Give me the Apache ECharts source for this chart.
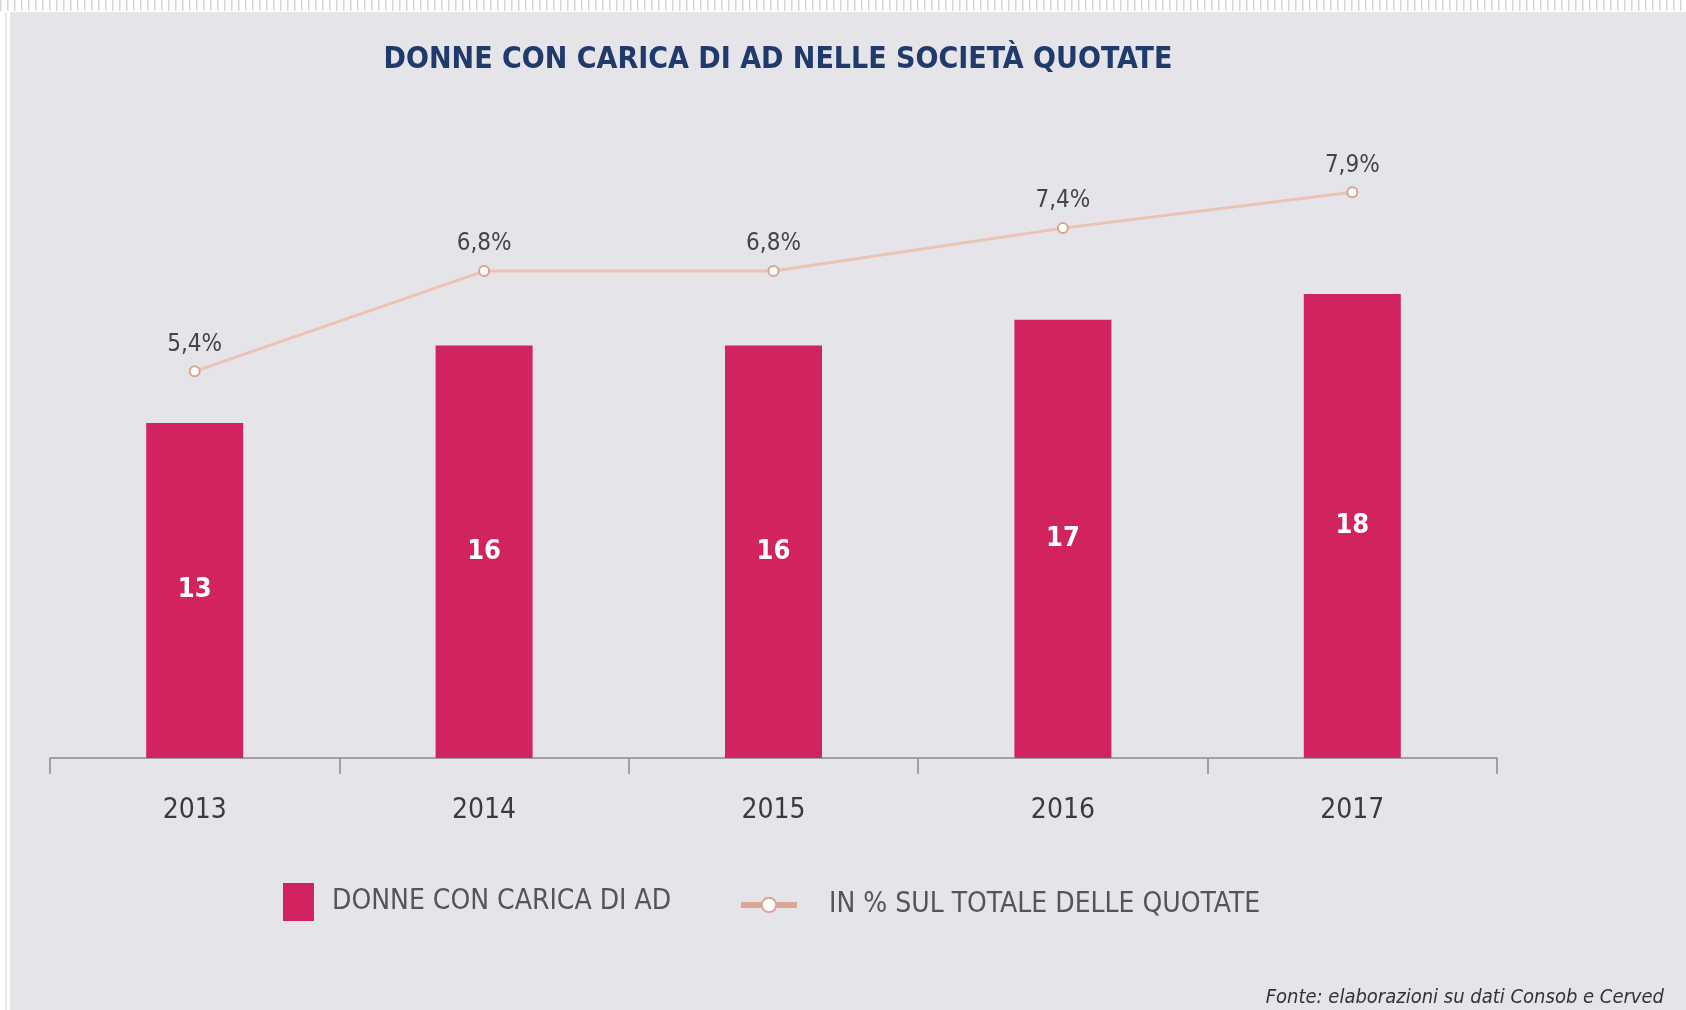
<!DOCTYPE html>
<html>
<head>
<meta charset="utf-8">
<title>Donne con carica di AD</title>
<script src="https://cdn.jsdelivr.net/npm/echarts@6/dist/echarts.min.js"></script>
<style>
  html, body { margin: 0; padding: 0; background: #ffffff; }
  #charts { width: 1686px; height: 1010px; }
</style>
</head>
<body>
<div id="charts"></div>
<script>
// dati
var anni = ['2013', '2014', '2015', '2016', '2017'];
var donneAD = [13, 16, 16, 17, 18];
var percQuotate = [5.4, 6.8, 6.8, 7.4, 7.9];

var nomeBarre = 'DONNE CON CARICA DI AD';
var nomeLinea = 'IN % SUL TOTALE DELLE QUOTATE';

var font = "'DejaVu Sans Condensed', 'Open Sans', sans-serif";

var myChart = echarts.init(document.getElementById('charts'));

myChart.setOption({
	backgroundColor: '#e5e5e9',
	textStyle: { fontFamily: font },
	title: {
		text: 'DONNE CON CARICA DI AD NELLE SOCIETÀ QUOTATE',
		left: 773,
		textAlign: 'center',
		top: 40,
		textStyle: { color: '#1f3a6b', fontSize: 30, fontWeight: 'bold', fontFamily: font }
	},
	// due legende separate, le icone hanno misure diverse
	legend: [{
		data: [{ name: nomeBarre, icon: 'rect' }],
		left: 283,
		top: 883,
		padding: 0,
		itemWidth: 31,
		itemHeight: 38,
		itemGap: 0,
		textStyle: { color: '#555', fontSize: 28, padding: [8, 0, 0, 13] }
	}, {
		data: [nomeLinea],
		left: 738,
		top: 891,
		padding: 0,
		itemWidth: 56,
		itemHeight: 18,
		textStyle: { color: '#555', fontSize: 28, padding: [0, 0, 0, 27] },
		lineStyle: { width: 6, color: '#dba794' }
	}],
	grid: { left: 50, right: 189, top: 178, bottom: 252 },
	xAxis: {
		type: 'category',
		data: anni,
		axisLine: { lineStyle: { color: '#8a8a8a', width: 1.5 } },
		axisTick: { show: true, length: 16, lineStyle: { color: '#8a8a8a', width: 1.5 } },
		axisLabel: { color: '#3a3a3a', fontSize: 28, margin: 39 }
	},
	yAxis: [
		{ type: 'value', min: 0, max: 22.5, show: false },
		{ type: 'value', min: 0, max: 8.1, show: false }
	],
	series: [{
		name: nomeBarre,
		type: 'bar',
		data: donneAD,
		barWidth: 97,
		itemStyle: { color: '#d1235f' },
		label: {
			show: true,
			position: 'inside',
			color: '#ffffff',
			fontSize: 27,
			fontWeight: 'bold'
		}
	}, {
		name: nomeLinea,
		type: 'line',
		yAxisIndex: 1,
		data: percQuotate,
		symbol: 'emptyCircle',
		symbolSize: 10,
		lineStyle: { color: '#ebc2b4', width: 3 },
		itemStyle: { color: '#d9a38f', borderWidth: 2 },
		label: {
			show: true,
			position: 'top',
			distance: 9,
			color: '#444',
			fontSize: 24,
			formatter: function (p) {
				return p.value.toFixed(1).replace('.', ',') + '%';
			}
		}
	}],
	graphic: [
		// bordo bianco a sinistra
		{ type: 'rect', left: 0, top: 0, shape: { width: 10, height: 1010 }, style: { fill: '#ffffff' } },
		{ type: 'line', shape: { x1: 6, y1: 0, x2: 6, y2: 1010 }, style: { stroke: '#d0d0d4', lineWidth: 1 } },
		// striscia tratteggiata in alto
		{ type: 'rect', left: 0, top: 0, shape: { width: 1686, height: 12 }, style: { fill: '#ffffff' } },
		{ type: 'line', shape: { x1: 0, y1: 5.5, x2: 1686, y2: 5.5 }, style: { stroke: '#d6d6da', lineWidth: 11, lineDash: [1.5, 5.5] } },
		// fonte
		{
			type: 'text',
			right: 22,
			top: 988,
			style: {
				text: 'Fonte: elaborazioni su dati Consob e Cerved',
				fill: '#333',
				font: 'italic 20px ' + font
			}
		}
	]
});
</script>
</body>
</html>
